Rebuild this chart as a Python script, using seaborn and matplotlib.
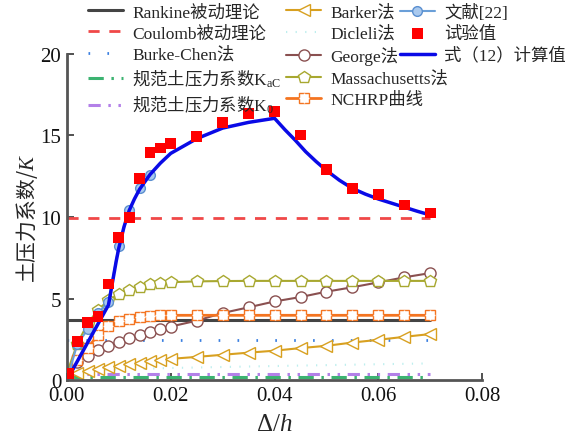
import numpy as np
import pandas as pd
import matplotlib
matplotlib.use("Agg")
import matplotlib.pyplot as plt
import seaborn as sns
from matplotlib.legend_handler import HandlerTuple

# ---------------- data ----------------
grid = [0.0, 0.002, 0.004, 0.006, 0.008, 0.010, 0.012, 0.014, 0.016, 0.018, 0.020,
        0.025, 0.030, 0.035, 0.040, 0.045, 0.050, 0.055, 0.060, 0.065, 0.070]

rankine_k = 3.69
coulomb_k = 9.95
burke_k = 2.47
kac_k = 0.21
k0_k = 0.38
const_x = [0.0, 0.07]

barker = [0.35, 0.45, 0.57, 0.67, 0.78, 0.88, 0.97, 1.06, 1.16, 1.24, 1.30,
          1.42, 1.55, 1.68, 1.80, 1.96, 2.10, 2.30, 2.47, 2.65, 2.82]
dicleli_x = [0.0, 0.01, 0.02, 0.04, 0.06, 0.07]
dicleli = [0.55, 0.65, 0.74, 0.86, 0.97, 1.02]
george = [0.30, 1.10, 1.50, 1.85, 2.10, 2.35, 2.55, 2.75, 2.95, 3.12, 3.28,
          3.64, 4.11, 4.46, 4.82, 5.09, 5.42, 5.69, 5.99, 6.30, 6.56]
mass = [0.43, 2.23, 3.46, 4.31, 4.88, 5.28, 5.55, 5.73, 5.86, 5.94, 6.00,
        6.05, 6.07, 6.08, 6.08, 6.08, 6.08, 6.08, 6.08, 6.08, 6.08]
nchrp = [0.0, 1.20, 1.96, 2.78, 3.30, 3.60, 3.75, 3.85, 3.95, 3.97, 3.97,
         3.97, 3.97, 3.97, 3.97, 3.97, 3.97, 3.97, 3.97, 3.97, 3.97]

lit_x = [0.0, 0.002, 0.004, 0.006, 0.008, 0.010, 0.012, 0.014, 0.016]
lit = [0.0, 2.2, 3.1, 4.1, 4.8, 8.24, 10.43, 11.76, 12.6]

test_x = [0.0003, 0.002, 0.004, 0.006, 0.008, 0.010, 0.012, 0.014, 0.016, 0.018, 0.020,
          0.025, 0.030, 0.035, 0.040, 0.045, 0.050, 0.055, 0.060, 0.065, 0.070]
test = [0.40, 2.35, 3.54, 3.89, 5.89, 8.75, 9.98, 12.37, 13.97, 14.23, 14.52,
        14.93, 15.81, 16.34, 16.46, 15.03, 12.90, 11.76, 11.37, 10.74, 10.25]

calc_x = [0.0, 0.008, 0.0085, 0.009, 0.0095, 0.010, 0.011, 0.012, 0.013, 0.014, 0.016,
          0.018, 0.020, 0.025, 0.030, 0.035, 0.040, 0.042, 0.044, 0.046, 0.048,
          0.050, 0.0525, 0.055, 0.0575, 0.060, 0.0625, 0.065, 0.0675, 0.070]
calc = [0.0, 4.6, 5.5, 6.4, 7.3, 8.1, 9.4, 10.4, 11.1, 11.7, 12.6,
        13.3, 13.9, 14.8, 15.45, 15.8, 16.05, 15.35, 14.7, 14.0, 13.4,
        12.85, 12.25, 11.75, 11.4, 11.1, 10.85, 10.6, 10.35, 10.12]

labels_a = ['Rankine被动理论', 'Coulomb被动理论', 'Burke-Chen法',
            r'$\mathrm{规范土压力系数}\mathsf{K}_{\mathsf{aC}}$',
            r'$\mathrm{规范土压力系数}\mathsf{K}_{\mathsf{0}}$',
            'Barker法', 'Dicleli法', 'George法', 'Massachusetts法', 'NCHRP曲线']
labels_b = ['文献[22]', '试验值', '式（12）计算值']
xlabel_txt = r'$\mathsf{\Delta/}h$'
ylabel_txt = r'$\mathrm{土压力系数/}K$'

# ---------------- style ----------------
sns.set_style('ticks')
plt.rcParams['font.family'] = ['Liberation Serif', 'Noto Sans CJK SC']
plt.rcParams['mathtext.fontset'] = 'custom'
plt.rcParams['mathtext.rm'] = 'Noto Sans CJK SC'
plt.rcParams['mathtext.it'] = 'Liberation Serif:italic'
plt.rcParams['mathtext.sf'] = 'Liberation Serif'

fig = plt.figure(figsize=(5.72, 4.39), dpi=100)
ax = fig.add_axes([0.117, 0.132, 0.726, 0.743])


def cline(y, **kw):
    df = pd.DataFrame({'x': const_x, 'y': [y, y]})
    sns.lineplot(data=df, x='x', y='y', ax=ax, **kw)
    return ax.lines[-1]


def series(x, y, **kw):
    df = pd.DataFrame({'x': x, 'y': y})
    sns.lineplot(data=df, x='x', y='y', ax=ax, **kw)
    return ax.lines[-1]


h_rank = cline(rankine_k, color='#444444', lw=2.2)
h_coul = cline(coulomb_k, color='#f04848', lw=2.0, dashes=(4, 3.5))
h_burk = cline(burke_k, color='#3a7fe0', lw=2.0, dashes=(0.6, 6.2))
h_kac = cline(kac_k, color='#3cb371', lw=2.2, dashes=(5, 2.5, 0.8, 2.5))
h_k0 = cline(k0_k, color='#b380e8', lw=2.2, dashes=(4, 2.5, 0.8, 2.5, 0.8, 2.5))

h_dic = series(dicleli_x, dicleli, color='#bdeeee', lw=1.5, dashes=(0.6, 4))
h_bark = series(grid, barker, color='#d8a020', lw=1.5, marker='<', markersize=9,
                markerfacecolor='white', markeredgecolor='#d8a020', markeredgewidth=1.0)
h_geo = series(grid, george, color='#8a5050', lw=1.5, marker='o', markersize=8,
               markerfacecolor='white', markeredgecolor='#8a5050', markeredgewidth=1.0)
h_mass = series(grid, mass, color='#a8a830', lw=1.5, marker='p', markersize=9,
                markerfacecolor='white', markeredgecolor='#a8a830', markeredgewidth=1.0)
h_nch = series(grid, nchrp, color='#f47420', lw=2.0, marker='s', markersize=7,
               markerfacecolor='white', markeredgecolor='#f47420', markeredgewidth=1.0)
h_nch2 = series(grid, nchrp, color='#f47420', lw=0, marker='+', markersize=7,
                markeredgewidth=1.0)
h_lit = series(lit_x, lit, color='#6a9fd8', lw=1.5, marker='o', markersize=7,
               markerfacecolor='#a9c9ee', markeredgecolor='#5a8fd0', markeredgewidth=1.0)
sns.scatterplot(x=test_x, y=test, ax=ax, marker='s', s=60, color='#ff0000',
                edgecolor='none', zorder=5)
h_test = ax.collections[-1]
h_calc = series(calc_x, calc, color='#0a0ae6', lw=2.5)

ax.set_xlim(0, 0.08)
ax.set_ylim(0, 20)
ax.set_xticks([0.0, 0.02, 0.04, 0.06, 0.08])
ax.set_xticklabels(['0.00', '0.02', '0.04', '0.06', '0.08'])
ax.set_yticks([0, 5, 10, 15, 20])
ax.tick_params(direction='in', length=5, width=1.2, labelsize=15, color='#333333',
               labelcolor='#111111', pad=4)
for s in ['top', 'right']:
    ax.spines[s].set_visible(False)
for s in ['left', 'bottom']:
    ax.spines[s].set_color('#555555')
    ax.spines[s].set_linewidth(2.0)
ax.set_xlabel(xlabel_txt, fontsize=18, labelpad=6)
ax.set_ylabel(ylabel_txt, fontsize=15, labelpad=0)

hs_a = [h_rank, h_coul, h_burk, h_kac, h_k0,
        h_bark, h_dic, h_geo, h_mass, (h_nch, h_nch2)]
hs_b = [h_lit, h_test, h_calc]
common = dict(frameon=False, fontsize=12.5, handlelength=2.0, handletextpad=0.55,
              labelspacing=0.28, borderpad=0.0, borderaxespad=0.0,
              handler_map={tuple: HandlerTuple(ndivide=1)})
leg_a = fig.legend(hs_a, labels_a, loc='upper left', bbox_to_anchor=(88 / 572, 1 - 5 / 439),
                   ncol=2, columnspacing=0.3, **common)
leg_b = fig.legend(hs_b, labels_b, loc='upper left', bbox_to_anchor=(400 / 572, 1 - 5 / 439),
                   ncol=1, **common)

fig.savefig('out.png', dpi=100)
